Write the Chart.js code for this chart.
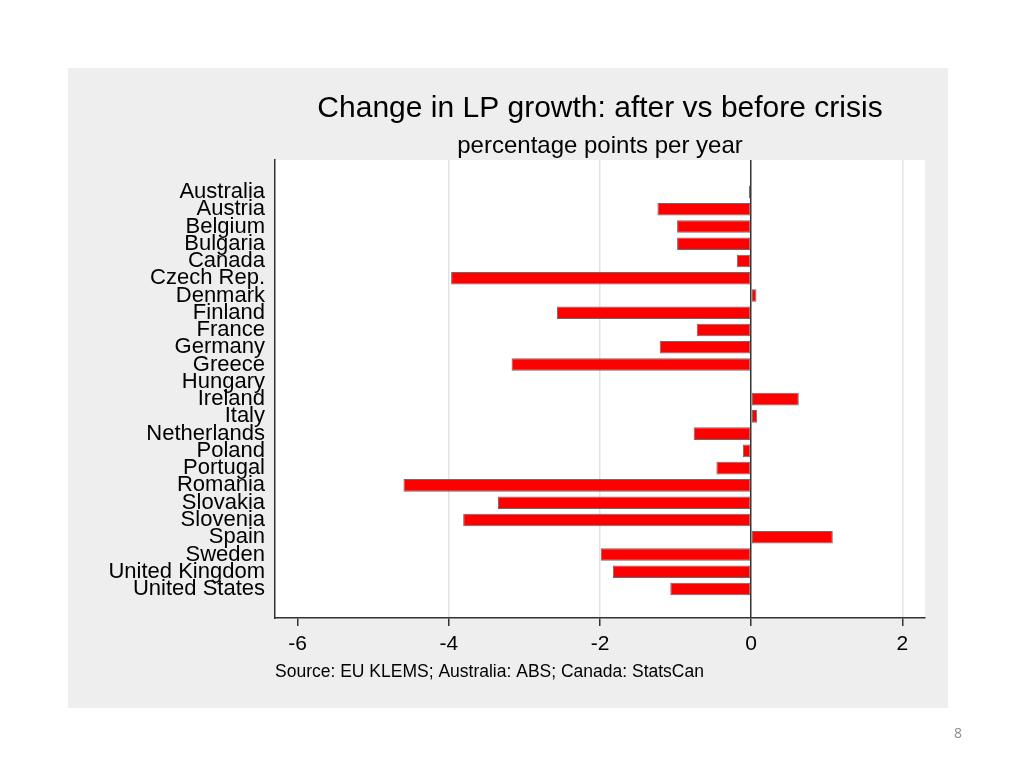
<!DOCTYPE html>
<html>
<head>
<meta charset="utf-8">
<script src="https://cdn.jsdelivr.net/npm/chart.js@4.4.0/dist/chart.umd.min.js"></script>
<style>
html, body { margin: 0; padding: 0; background: #fff; }
</style>
</head>
<body>
<canvas id="lpChart" width="1024" height="768"></canvas>
<script>
const countries = ['Australia', 'Austria', 'Belgium', 'Bulgaria', 'Canada', 'Czech Rep.', 'Denmark',
    'Finland', 'France', 'Germany', 'Greece', 'Hungary', 'Ireland', 'Italy', 'Netherlands', 'Poland',
    'Portugal', 'Romania', 'Slovakia', 'Slovenia', 'Spain', 'Sweden', 'United Kingdom', 'United States'];
const lpChange = [-0.03, -1.24, -0.98, -0.98, -0.19, -3.97, 0.07,
    -2.57, -0.72, -1.21, -3.17, null, 0.63, 0.08, -0.76, -0.11,
    -0.46, -4.60, -3.35, -3.81, 1.08, -1.99, -1.83, -1.07];
const xTicks = [-6, -4, -2, 0, 2];

const titleText = 'Change in LP growth: after vs before crisis';
const subtitleText = 'percentage points per year';
const sourceText = 'Source: EU KLEMS; Australia: ABS; Canada: StatsCan';
const pageNumber = '8';

const fontFamily = '"Liberation Sans", Arial, Helvetica, sans-serif';

// grey slide panel, white plot area, titles and page number
const slideDecor = {
    id: 'slideDecor',
    beforeDraw(chart) {
        const ctx = chart.ctx;
        const a = chart.chartArea;
        ctx.save();
        ctx.fillStyle = '#eeeeee';
        ctx.fillRect(68, 68, 880, 640);
        ctx.fillStyle = '#ffffff';
        ctx.fillRect(a.left, a.top, a.right - a.left, a.bottom - a.top);
        ctx.restore();
    },
    afterDraw(chart) {
        const ctx = chart.ctx;
        const a = chart.chartArea;
        const cx = (a.left + a.right) / 2;
        ctx.save();
        ctx.fillStyle = '#000';
        ctx.textAlign = 'center';
        ctx.textBaseline = 'middle';
        ctx.font = '30px ' + fontFamily;
        ctx.fillText(titleText, cx, 109);
        ctx.font = '24px ' + fontFamily;
        ctx.fillText(subtitleText, cx, 146);
        ctx.fillStyle = '#8a8a8a';
        ctx.font = '14px "Open Sans", sans-serif';
        ctx.fillText(pageNumber, 958, 734);
        ctx.restore();
    }
};

new Chart(document.getElementById('lpChart'), {
    type: 'bar',
    data: {
        datasets: [{
            data: lpChange.map((v, i) => ({ x: v, y: i })),
            backgroundColor: '#ff0000',
            borderColor: '#6b6b6b',
            borderWidth: 1,
            borderSkipped: false,
            categoryPercentage: 1,
            barPercentage: 0.73
        }]
    },
    options: {
        indexAxis: 'y',
        responsive: false,
        animation: false,
        layout: {
            padding: { left: 68, right: 99, top: 160, bottom: 60 }
        },
        plugins: {
            legend: { display: false },
            tooltip: { enabled: false }
        },
        scales: {
            x: {
                type: 'linear',
                min: -6.3,
                max: 2.3,
                afterBuildTicks: function (scale) {
                    scale.ticks = xTicks.map(v => ({ value: v }));
                },
                afterFit: function (scale) {
                    scale.height = 90;
                },
                grid: {
                    color: function (c) {
                        if (c.tick.value === 0) return '#333333';
                        if (c.tick.value === -6) return 'rgba(0,0,0,0)';
                        return '#e2e2e2';
                    },
                    lineWidth: 1.5,
                    tickLength: 8,
                    tickColor: '#333333',
                    tickWidth: 1.5
                },
                border: { display: true, color: '#333333', width: 1.5 },
                ticks: {
                    font: { size: 21, family: fontFamily },
                    color: '#000',
                    padding: 6
                },
                title: {
                    display: true,
                    text: sourceText,
                    align: 'start',
                    color: '#000',
                    font: { size: 17.5, family: fontFamily },
                    padding: { top: 0, bottom: 25 }
                }
            },
            y: {
                type: 'linear',
                reverse: true,
                offset: false,
                min: -1.85,
                max: 24.68,
                afterBuildTicks: function (scale) {
                    scale.ticks = countries.map((c, i) => ({ value: i }));
                },
                afterFit: function (scale) {
                    scale.width = 207;
                },
                grid: { display: false, drawTicks: false, offset: false },
                border: { display: true, color: '#333333', width: 1.5 },
                ticks: {
                    autoSkip: false,
                    padding: 10,
                    font: { size: 22, family: fontFamily },
                    color: '#000',
                    callback: v => countries[v]
                }
            }
        }
    },
    plugins: [slideDecor]
});
</script>
</body>
</html>
